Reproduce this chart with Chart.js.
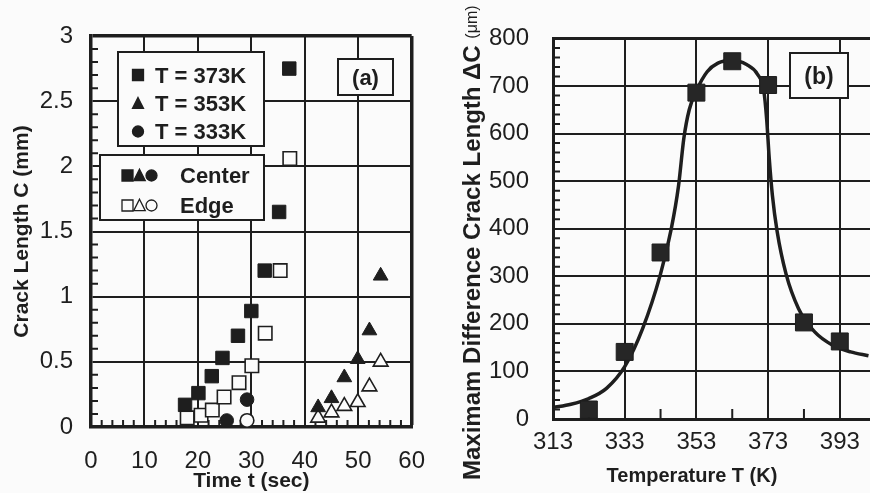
<!DOCTYPE html>
<html>
<head>
<meta charset="utf-8">
<script src="https://cdn.jsdelivr.net/npm/chart.js@4/dist/chart.umd.min.js"></script>
<style>
    html, body { margin: 0; padding: 0; background: #fbfbfb; }
    #wrap { position: relative; width: 870px; height: 493px; overflow: hidden; background: #fbfbfb; }
    #chart-a { position: absolute; left: 0; top: 0; }
    #chart-b { position: absolute; left: 440px; top: 0; }
</style>
</head>
<body>
<div id="wrap">
    <canvas id="chart-a" width="445" height="493"></canvas>
    <canvas id="chart-b" width="520" height="493"></canvas>
</div>
<script>
/*jshint esversion: 9 */

// ---- (a) crack length vs time ----
const timeTicks = [0, 10, 20, 30, 40, 50, 60];
const crackTicks = [0, 0.5, 1, 1.5, 2, 2.5, 3];

const t373Center = [17.6, 20.1, 22.6, 24.6, 27.5, 30.0, 32.5, 35.2, 37.1];
const c373Center = [0.17, 0.26, 0.39, 0.53, 0.70, 0.89, 1.20, 1.65, 2.75];
const t373Edge = [18.0, 20.6, 22.7, 24.9, 27.7, 30.1, 32.6, 35.4, 37.2];
const c373Edge = [0.07, 0.09, 0.13, 0.23, 0.34, 0.47, 0.72, 1.20, 2.06];
const t353Center = [42.5, 45.0, 47.4, 49.9, 52.1, 54.2];
const c353Center = [0.15, 0.22, 0.38, 0.52, 0.74, 1.16];
const t353Edge = [42.5, 45.0, 47.4, 49.9, 52.1, 54.2];
const c353Edge = [0.07, 0.11, 0.16, 0.19, 0.31, 0.50];
const t333Center = [25.4, 29.2];
const c333Center = [0.05, 0.21];
const t333Edge = [29.2];
const c333Edge = [0.05];

const legendTemps = ['T = 373K', 'T = 353K', 'T = 333K'];
const legendSites = ['Center', 'Edge'];

// ---- (b) max difference crack length vs temperature ----
const tempTicks = [313, 333, 353, 373, 393, 413];
const diffTicks = [0, 100, 200, 300, 400, 500, 600, 700, 800];

const tempK = [323, 333, 343, 353, 363, 373, 383, 393];
const deltaC = [20, 141, 350, 686, 752, 702, 203, 163];

// fitted curve
const curveT = [313, 318, 323, 328, 333, 338, 343, 346, 348, 349.5, 351, 353, 356, 359, 363, 367, 370, 371.8, 372.6, 373.3, 374.2, 375.5, 378, 381.5, 386, 391, 396, 401];
const curveC = [24, 31, 43, 65, 110, 190, 305, 400, 489, 590, 650, 690, 730, 748, 754, 745, 725, 690, 630, 550, 470, 395, 305, 232, 183, 155, 141, 133];


const ink = '#1e1e1e';
const paper = '#fbfbfb';
const sans = '"Liberation Sans", Arial, sans-serif';
const tickFont = { family: sans, size: 24 };

const asPoints = (xs, ys) => xs.map((x, i) => ({ x: x, y: ys[i] }));
const useTicks = list => scale => { scale.ticks = list.map(v => ({ value: v })); };
const edgeWidth = (last, thin, thick) => c => (c.tick && c.tick.value === last ? thick : thin);

const marker = (xs, ys, style, size, filled) => ({
    data: asPoints(xs, ys),
    pointStyle: style,
    pointRadius: size,
    backgroundColor: filled ? ink : paper,
    borderColor: ink,
    borderWidth: filled ? 1 : 1.6,
    clip: false,
});

const glyph = (ctx, style, x, y, s, filled) => {
    ctx.beginPath();
    if (style === 'rect') {
        ctx.rect(x - s / 2, y - s / 2, s, s);
    } else if (style === 'triangle') {
        ctx.moveTo(x, y - s * 0.55);
        ctx.lineTo(x + s / 2, y + s * 0.45);
        ctx.lineTo(x - s / 2, y + s * 0.45);
        ctx.closePath();
    } else {
        ctx.arc(x, y, s / 2, 0, Math.PI * 2);
    }
    ctx.fillStyle = filled ? ink : paper;
    ctx.fill();
    ctx.lineWidth = 1.3;
    ctx.strokeStyle = ink;
    ctx.stroke();
};

const whiteBox = (ctx, x, y, w, h) => {
    ctx.fillStyle = paper;
    ctx.fillRect(x, y, w, h);
    ctx.lineWidth = 2;
    ctx.strokeStyle = ink;
    ctx.strokeRect(x, y, w, h);
};

const innerTicks = (xVals, yVals, xLen, yLen) => ({
    id: 'innerTicks',
    beforeDatasetsDraw: chart => {
        const { ctx, chartArea, scales } = chart;
        ctx.save();
        ctx.strokeStyle = ink;
        ctx.lineWidth = 2;
        ctx.beginPath();
        xVals.forEach(v => {
            const px = scales.x.getPixelForValue(v);
            ctx.moveTo(px, chartArea.bottom);
            ctx.lineTo(px, chartArea.bottom - xLen);
        });
        yVals.forEach(v => {
            const py = scales.y.getPixelForValue(v);
            ctx.moveTo(chartArea.left, py);
            ctx.lineTo(chartArea.left + yLen, py);
        });
        ctx.stroke();
        ctx.restore();
    },
});

const minorA_x = [];
for (let v = 2; v < 60; v += 2) if (v % 10) minorA_x.push(v);
const minorA_y = [];
for (let i = 1; i < 30; i++) if (i % 5) minorA_y.push(i / 10);
const minorB_x = [323, 343, 363, 383, 403];
const minorB_y = [];
for (let v = 20; v < 800; v += 20) if (v % 100) minorB_y.push(v);


const legendA = {
    id: 'legendA',
    beforeDatasetsDraw: chart => {
        const ctx = chart.ctx;
        ctx.save();

        whiteBox(ctx, 118, 52, 146, 94);
        const styles = ['rect', 'triangle', 'circle'];
        const rows = [75, 103.5, 131.5];
        ctx.font = 'bold 22px ' + sans;
        ctx.textAlign = 'left';
        ctx.textBaseline = 'alphabetic';
        for (let i = 0; i < 3; i++) {
            glyph(ctx, styles[i], 138, rows[i], 11, true);
            ctx.fillStyle = ink;
            ctx.fillText(legendTemps[i], 155, rows[i] + 7.8);
        }

        whiteBox(ctx, 100, 155, 164, 65);
        const siteRows = [175.5, 205.5];
        for (let j = 0; j < 2; j++) {
            const filled = j === 0;
            glyph(ctx, 'rect', 127.5, siteRows[j], 11, filled);
            glyph(ctx, 'triangle', 139.5, siteRows[j], 11.5, filled);
            glyph(ctx, 'circle', 151.5, siteRows[j], 11, filled);
            ctx.fillStyle = ink;
            ctx.fillText(legendSites[j], 180, siteRows[j] + 7.8);
        }

        whiteBox(ctx, 338, 59, 55, 36);
        ctx.fillStyle = ink;
        ctx.textAlign = 'center';
        ctx.font = 'bold 22px ' + sans;
        ctx.fillText('(a)', 365.5, 85);
        ctx.restore();
    },
};

new Chart(document.getElementById('chart-a'), {
    type: 'scatter',
    data: {
        datasets: [
            marker(t373Center, c373Center, 'rect', 9.5, true),
            marker(t373Edge, c373Edge, 'rect', 9.5, false),
            marker(t353Center, c353Center, 'triangle', 8.5, true),
            marker(t353Edge, c353Edge, 'triangle', 8.5, false),
            marker(t333Center, c333Center, 'circle', 6.8, true),
            marker(t333Edge, c333Edge, 'circle', 6.8, false),
        ],
    },
    options: {
        responsive: false,
        animation: false,
        events: [],
        layout: { padding: { left: 0, top: 36, right: 27, bottom: 0 } },
        plugins: { legend: { display: false }, tooltip: { enabled: false } },
        scales: {
            x: {
                type: 'linear', min: 0, max: 60,
                afterBuildTicks: useTicks(timeTicks),
                afterFit: s => { s.height = 66; },
                grid: { color: ink, lineWidth: edgeWidth(60, 2, 3.5), drawTicks: false },
                border: { color: ink, width: 3.5 },
                ticks: { font: tickFont, color: ink, padding: 20, autoSkip: false, maxRotation: 0, callback: v => String(v) },
                title: {
                    display: true, text: 'Time t (sec)', color: ink,
                    font: { family: sans, size: 21, weight: 'bold', lineHeight: 1 },
                    padding: { top: 0, bottom: 1 },
                },
            },
            y: {
                type: 'linear', min: 0, max: 3,
                afterBuildTicks: useTicks(crackTicks),
                afterFit: s => { s.width = 91; },
                grid: { color: ink, lineWidth: edgeWidth(3, 2, 3.5), drawTicks: false },
                border: { color: ink, width: 3.5 },
                ticks: { font: tickFont, color: ink, padding: 18, autoSkip: false, callback: v => String(v) },
                title: {
                    display: true, text: 'Crack Length C (mm)', color: ink,
                    font: { family: sans, size: 21, weight: 'bold', lineHeight: 1 },
                    padding: { top: 12, bottom: 0 },
                },
            },
        },
    },
    plugins: [legendA, innerTicks(minorA_x, minorA_y, 7, 7)],
});


const labelsB = {
    id: 'labelsB',
    beforeDatasetsDraw: chart => {
        const ctx = chart.ctx;
        ctx.save();
        whiteBox(ctx, 350, 53, 58, 45);
        ctx.fillStyle = ink;
        ctx.textAlign = 'center';
        ctx.textBaseline = 'alphabetic';
        ctx.font = 'bold 23px ' + sans;
        ctx.fillText('(b)', 379, 83.5);
        ctx.restore();
    },
    afterDraw: chart => {
        const ctx = chart.ctx;
        ctx.save();
        ctx.fillStyle = ink;
        ctx.textBaseline = 'middle';

        ctx.textAlign = 'center';
        ctx.font = 'bold 20px ' + sans;
        ctx.fillText('Temperature T (K)', 252, 476);

        ctx.translate(33, 480);
        ctx.rotate(-Math.PI / 2);
        ctx.textAlign = 'left';
        ctx.font = 'bold 24px ' + sans;
        const mainTitle = 'Maximam Difference Crack Length \u0394C ';
        ctx.fillText(mainTitle, 0, 0);
        const w = ctx.measureText(mainTitle).width;
        ctx.font = '16px ' + sans;
        ctx.fillText('(\u03bcm)', w, 0);
        ctx.restore();
    },
};

new Chart(document.getElementById('chart-b'), {
    type: 'scatter',
    data: {
        datasets: [
            {
                data: asPoints(tempK, deltaC),
                pointStyle: 'rect',
                pointRadius: 12,
                backgroundColor: '#262626',
                borderColor: ink,
                borderWidth: 1,
                clip: false,
            },
            {
                data: asPoints(curveT, curveC),
                showLine: true,
                pointRadius: 0,
                borderColor: ink,
                borderWidth: 3.5,
                cubicInterpolationMode: 'monotone',
                clip: false,
            },
        ],
    },
    options: {
        responsive: false,
        animation: false,
        events: [],
        layout: { padding: { left: 0, top: 28, right: 48.5, bottom: 0 } },
        plugins: { legend: { display: false }, tooltip: { enabled: false } },
        scales: {
            x: {
                type: 'linear', min: 313, max: 413,
                afterBuildTicks: useTicks(tempTicks),
                afterFit: s => { s.height = 74; },
                grid: { color: ink, lineWidth: edgeWidth(413, 2, 3), drawTicks: false },
                border: { color: ink, width: 3 },
                ticks: { font: tickFont, color: ink, padding: 9, autoSkip: false, maxRotation: 0, callback: v => String(v) },
            },
            y: {
                type: 'linear', min: 0, max: 800,
                afterBuildTicks: useTicks(diffTicks),
                afterFit: s => { s.width = 113; },
                grid: { color: ink, lineWidth: edgeWidth(800, 2, 3), drawTicks: false },
                border: { color: ink, width: 3 },
                ticks: { font: tickFont, color: ink, padding: 24, autoSkip: false, callback: v => String(v) },
            },
        },
    },
    plugins: [labelsB, innerTicks(minorB_x, minorB_y, 10, 7)],
});
</script>
</body>
</html>
